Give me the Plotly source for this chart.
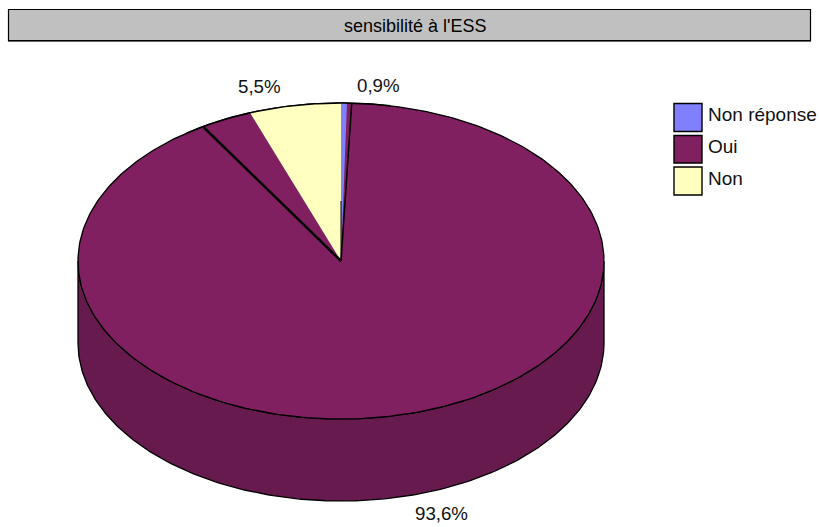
import numpy as np
import plotly.graph_objects as go

# Data
categories = ["Non réponse", "Oui", "Non"]
shares = [0.9, 93.6, 5.5]
share_labels = ["0,9%", "93,6%", "5,5%"]
title_text = "sensibilité à l'ESS"
# Visible extents of the marks as read on the picture (% of the turn, from 12 o'clock)
non_drawn = 5.62
blue_drawn = 0.36
sliver_edge = 0.65
left_edge = 8.8

colors = ["#8080FF", "#802060", "#FFFFC0"]
side_color = "#661A4D"
FONT = "Liberation Sans, Arial, sans-serif"

CX, CY, RX, RY, DEPTH = 341, 261, 263, 158, 82


def rim(pct):
    t = np.asarray(pct) * 2 * np.pi / 100
    return CX + RX * np.sin(t), CY - RY * np.cos(t)


def wedge(p0, p1):
    x, y = rim(np.linspace(p0, p1, 60))
    return np.r_[CX, x, CX], np.r_[CY, y, CY]


fig = go.Figure()

# side wall
x_b, y_b = rim(np.linspace(25, 75, 200))
fig.add_trace(go.Scatter(
    x=np.r_[x_b, x_b[::-1], x_b[0]], y=np.r_[y_b, y_b[::-1] + DEPTH, y_b[0]],
    mode="lines", fill="toself", fillcolor=side_color,
    line=dict(color="black", width=1.3), hoverinfo="skip", showlegend=False))

# top: Oui is the full ellipse
x_all, y_all = rim(np.linspace(0, 100, 400))
fig.add_trace(go.Scatter(
    x=x_all, y=y_all, mode="lines", fill="toself", fillcolor=colors[1],
    line=dict(color="black", width=1.3), name=categories[1], showlegend=False))

# Non wedge
x_n, y_n = wedge(-non_drawn, 0)
fig.add_trace(go.Scatter(
    x=x_n, y=y_n, mode="lines", fill="toself", fillcolor=colors[2],
    line=dict(width=0), name=categories[2], showlegend=False))

# Non réponse wedge
x_r, y_r = wedge(0, blue_drawn)
fig.add_trace(go.Scatter(
    x=x_r, y=y_r, mode="lines", fill="toself", fillcolor=colors[0],
    line=dict(width=0), name=categories[0], showlegend=False))

# redraw rim over the wedges, then slice edges
x_t, y_t = rim(np.linspace(-10, 3, 80))
fig.add_trace(go.Scatter(x=x_t, y=y_t, mode="lines",
                         line=dict(color="black", width=1.5),
                         hoverinfo="skip", showlegend=False))
for pct, w in ((sliver_edge, 1.5), (-left_edge, 2.6)):
    xe, ye = rim(pct)
    fig.add_trace(go.Scatter(x=[CX, xe], y=[CY, ye], mode="lines",
                             line=dict(color="black", width=w),
                             hoverinfo="skip", showlegend=False))
fig.add_trace(go.Scatter(x=[CX, CX], y=[CY, CY - 60], mode="lines",
                         line=dict(color="black", width=1),
                         hoverinfo="skip", showlegend=False))

shapes = [
    dict(type="rect", x0=8.5, x1=810.5, y0=9.5, y1=40.5, fillcolor="#C0C0C0",
         line=dict(color="black", width=1.2), layer="below"),
    dict(type="line", x0=8, x1=811, y0=41.5, y1=41.5,
         line=dict(color="#666666", width=1)),
]
annotations = [
    dict(x=415.5, y=26, text=title_text, showarrow=False,
         font=dict(family=FONT, size=18, color="black")),
]
label_pos = [(378, 85), (441, 513), (259, 86)]
for (x, y), t in zip(label_pos, share_labels):
    annotations.append(dict(x=x, y=y, text=t, showarrow=False,
                            font=dict(family=FONT, size=18.7, color="#111111")))
swatches = [(103.5, 131.5), (135.5, 163), (167, 195)]
for (y0, y1), c, name in zip(swatches, colors, categories):
    shapes.append(dict(type="rect", x0=674, x1=702, y0=y0, y1=y1, fillcolor=c,
                       line=dict(color="black", width=1.4)))
    annotations.append(dict(x=705.5, y=(y0 + y1) / 2 - 3, text=name, showarrow=False,
                            xanchor="left",
                            font=dict(family=FONT, size=19, color="#111111")))

fig.update_layout(
    width=819, height=527, margin=dict(l=0, r=0, t=0, b=0),
    paper_bgcolor="white", plot_bgcolor="white", showlegend=False,
    shapes=shapes, annotations=annotations,
    xaxis=dict(range=[0, 819], visible=False, fixedrange=True),
    yaxis=dict(range=[527, 0], visible=False, fixedrange=True),
)
fig.write_html("out.html", config=dict(displayModeBar=False),
               default_width="819px", default_height="527px",
               post_script="document.body.style.margin='0';")
